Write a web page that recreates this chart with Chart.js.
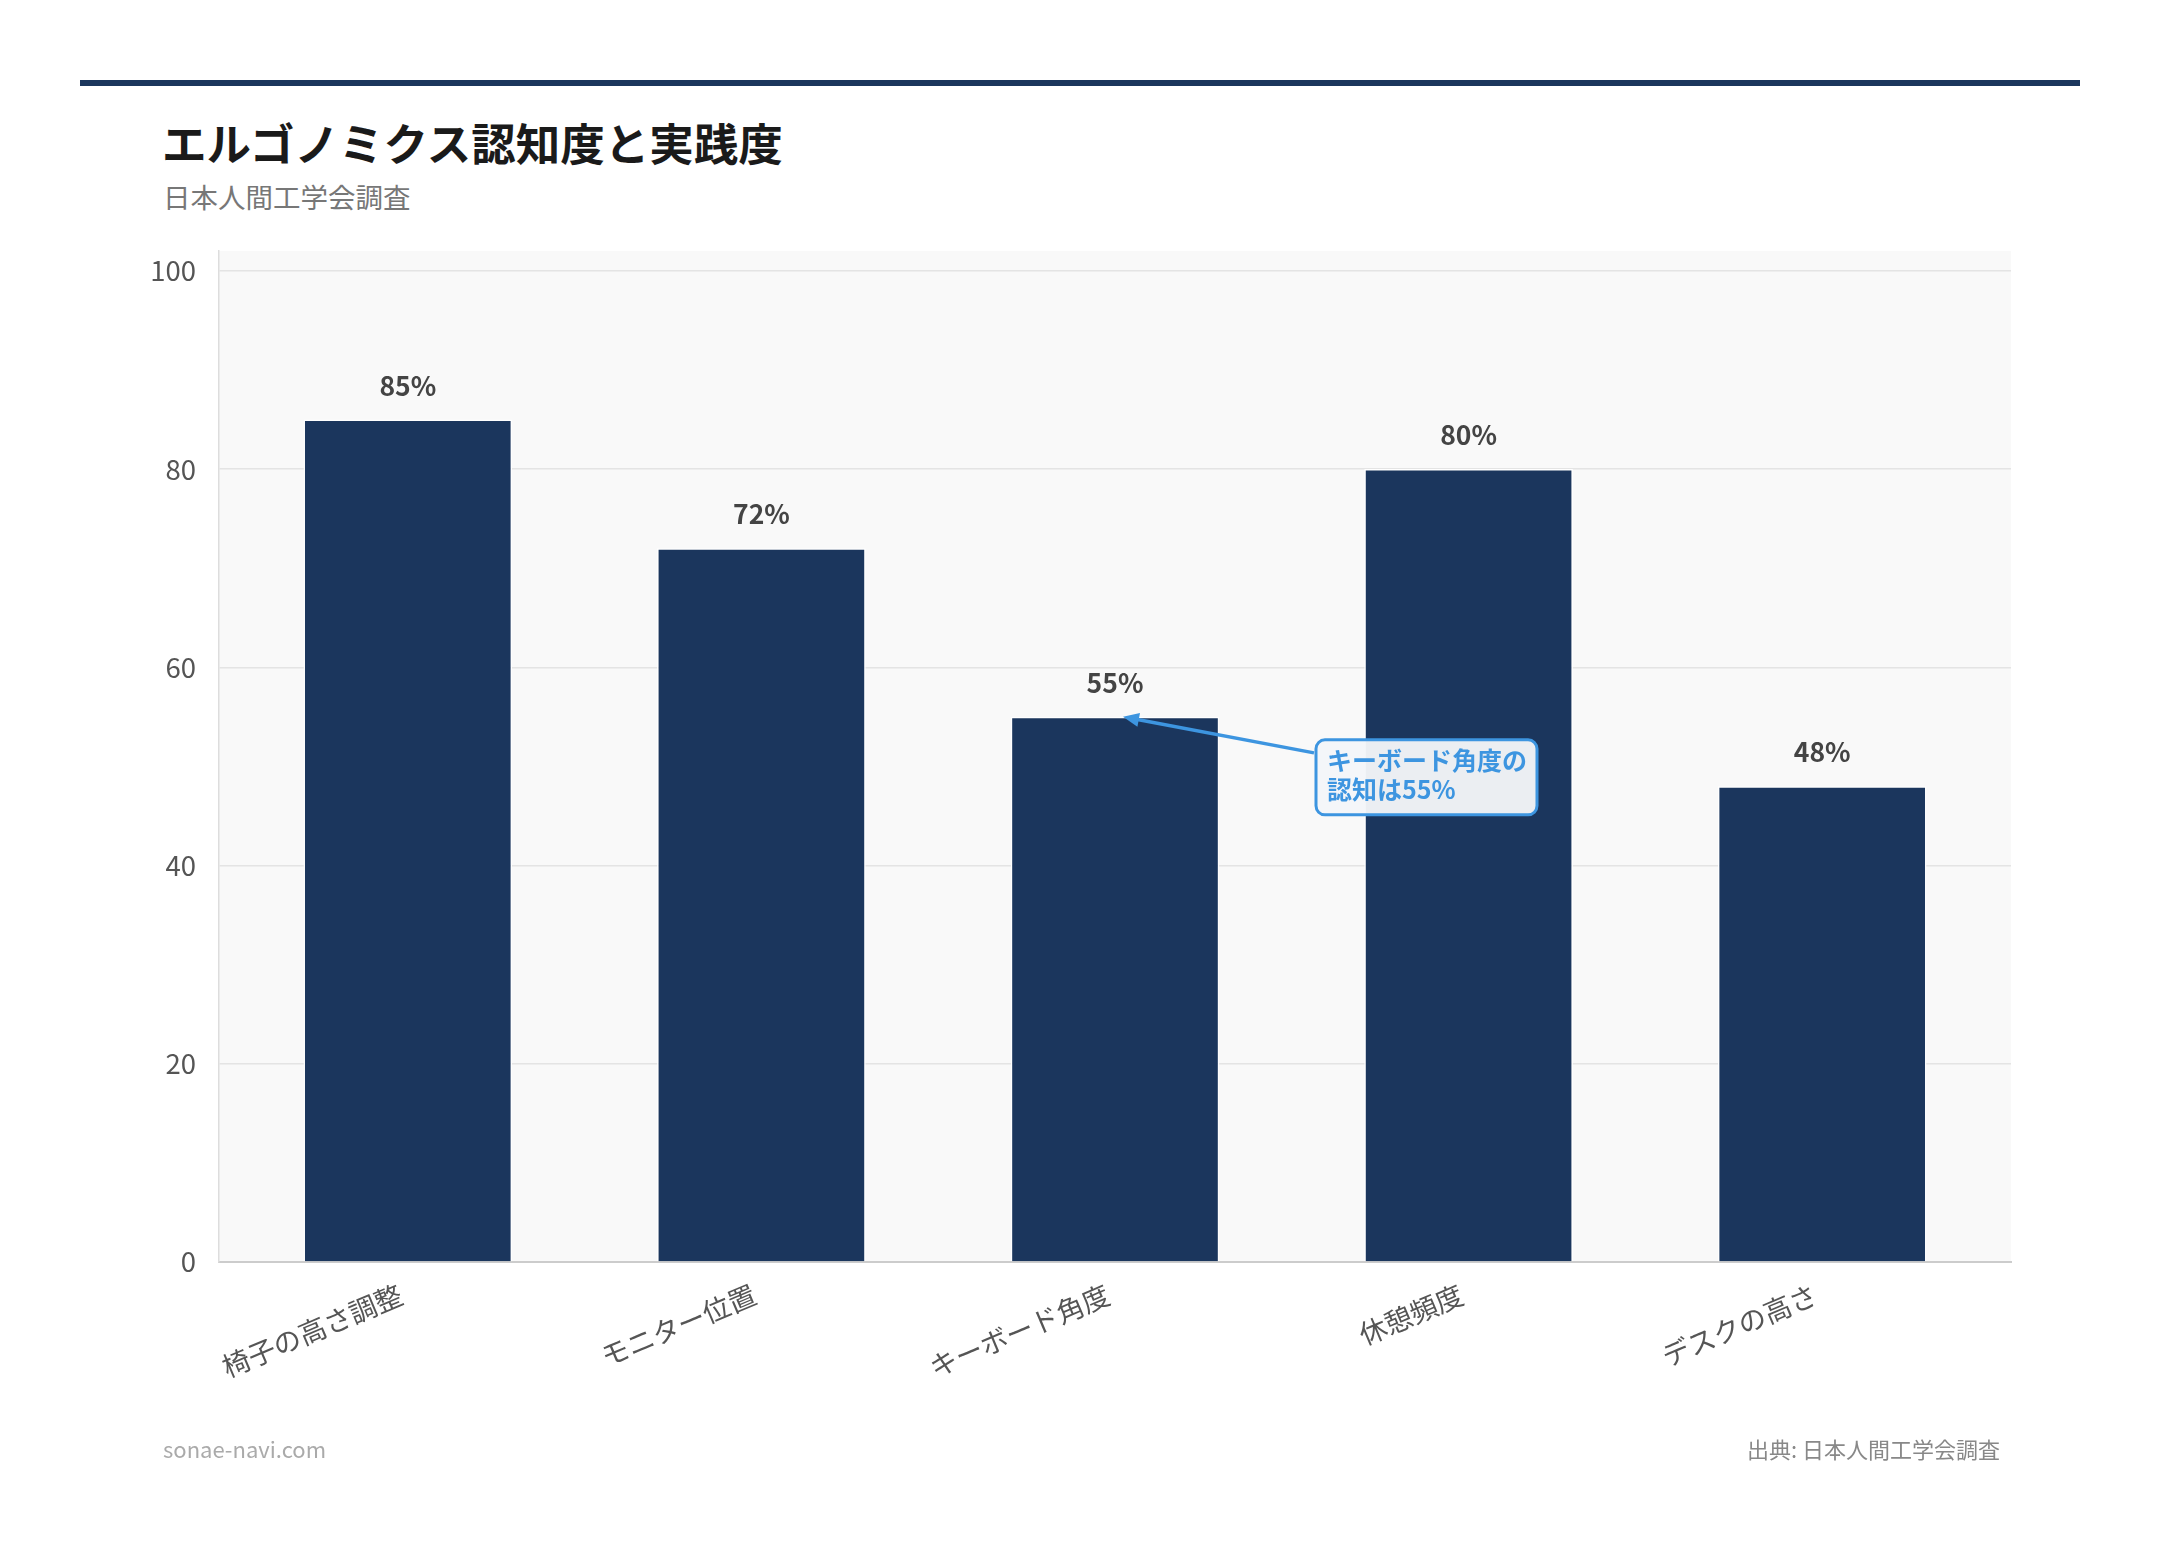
<!DOCTYPE html>
<html lang="ja">
<head>
<meta charset="utf-8">
<script src="https://cdn.jsdelivr.net/npm/chart.js@4.4.1/dist/chart.umd.min.js"></script>
<style>
  html, body { margin: 0; padding: 0; background: #fff; }
  body { width: 2160px; height: 1544px; position: relative; overflow: hidden;
         font-family: "Noto Sans CJK JP", "Noto Sans", sans-serif; }
  .rule { position: absolute; left: 80px; top: 80px; width: 2000px; height: 6px; background: #1b365d; }
  .title { position: absolute; left: 162px; top: 109px; font-size: 44.5px; font-weight: 700; color: #1a1a1a; }
  .subtitle { position: absolute; left: 163px; top: 176px; font-size: 27.5px; color: #777; }
  .foot-l { position: absolute; left: 163px; top: 1432px; font-size: 22px; color: #aaa; }
  .foot-r { position: absolute; right: 160px; top: 1432px; font-size: 22px; color: #888; }
  #wrap { position: absolute; left: 0; top: 0; width: 2160px; height: 1544px; }
</style>
</head>
<body>
<div class="rule"></div>
<div class="title">エルゴノミクス認知度と実践度</div>
<div class="subtitle">日本人間工学会調査</div>
<div id="wrap"><canvas id="grafico"></canvas></div>
<div class="foot-l">sonae-navi.com</div>
<div class="foot-r">出典: 日本人間工学会調査</div>

<script>
// データ
const categorias = ['椅子の高さ調整', 'モニター位置', 'キーボード角度', '休憩頻度', 'デスクの高さ'];
const valores = [85, 72, 55, 80, 48];
const yTicks = [0, 20, 40, 60, 80, 100];
const notaIndice = 2;
const notaTexto = ['キーボード角度の', '認知は55%'];

const fonte = '"Noto Sans CJK JP", "Noto Sans", sans-serif';

// fundo da área do gráfico
const fundoArea = {
  id: 'fundoArea',
  beforeDraw(chart) {
    const { ctx, chartArea: a } = chart;
    ctx.save();
    ctx.fillStyle = '#f9f9f9';
    ctx.fillRect(a.left, a.top, a.right - a.left, a.bottom - a.top);
    ctx.restore();
  }
};

// um pouco de margem dentro do eixo x
const recuoX = {
  id: 'recuoX',
  afterLayout(chart) {
    const s = chart.scales.x;
    s._startPixel += 12;
    s._endPixel -= 12;
    s._length -= 24;
  }
};

// rótulos em cima das barras + anotação
const rotulos = {
  id: 'rotulos',
  afterDatasetsDraw(chart) {
    const { ctx } = chart;
    const meta = chart.getDatasetMeta(0);
    ctx.save();
    ctx.font = '700 26.5px ' + fonte;
    ctx.fillStyle = '#444';
    ctx.textAlign = 'center';
    ctx.textBaseline = 'middle';
    meta.data.forEach((bar, i) => {
      ctx.fillText(valores[i] + '%', bar.x, bar.y - 34);
    });

    // anotação
    const alvo = meta.data[notaIndice];
    const tipX = alvo.x + 8, tipY = alvo.y;
    const bx = alvo.x + 201, by = alvo.y + 23, bw = 221, bh = 75;
    const tailX = bx - 2, tailY = by + 13;
    const azul = '#3d95e0';
    const ang = Math.atan2(tipY - tailY, tipX - tailX);
    ctx.strokeStyle = azul;
    ctx.fillStyle = azul;
    ctx.lineWidth = 3.5;
    ctx.beginPath();
    ctx.moveTo(tailX, tailY);
    ctx.lineTo(tipX - 12 * Math.cos(ang), tipY - 12 * Math.sin(ang));
    ctx.stroke();
    ctx.beginPath();
    ctx.moveTo(tipX, tipY);
    ctx.lineTo(tipX - 16 * Math.cos(ang) + 7 * Math.sin(ang), tipY - 16 * Math.sin(ang) - 7 * Math.cos(ang));
    ctx.lineTo(tipX - 16 * Math.cos(ang) - 7 * Math.sin(ang), tipY - 16 * Math.sin(ang) + 7 * Math.cos(ang));
    ctx.closePath();
    ctx.fill();

    ctx.beginPath();
    ctx.roundRect(bx, by, bw, bh, 9);
    ctx.fillStyle = 'rgba(244,246,249,0.96)';
    ctx.fill();
    ctx.lineWidth = 3;
    ctx.stroke();

    ctx.fillStyle = azul;
    ctx.font = '700 25px ' + fonte;
    ctx.textAlign = 'left';
    ctx.textBaseline = 'middle';
    ctx.fillText(notaTexto[0], bx + 11, by + 21);
    ctx.fillText(notaTexto[1], bx + 11, by + 50);
    ctx.restore();
  }
};

const ctx = document.getElementById('grafico').getContext('2d');
const grafico = new Chart(ctx, {
  type: 'bar',
  data: {
    labels: categorias,
    datasets: [{
      data: valores,
      backgroundColor: '#1b365d',
      borderColor: '#ffffff',
      borderWidth: 1.5,
      barPercentage: 0.59,
      categoryPercentage: 1
    }]
  },
  options: {
    responsive: true,
    maintainAspectRatio: false,
    animation: false,
    devicePixelRatio: 1,
    layout: { padding: { left: 139, right: 149, top: 251, bottom: 132 } },
    plugins: {
      legend: { display: false },
      title: { display: false },
      tooltip: { enabled: false }
    },
    scales: {
      x: {
        grid: { display: false, drawTicks: false },
        border: { display: true, color: '#cccccc', width: 2 },
        afterFit(s) { s.height = 150; },
        ticks: {
          color: '#555',
          font: { family: fonte, size: 27.5 },
          minRotation: 23,
          maxRotation: 23,
          padding: 16,
          labelOffset: -7
        }
      },
      y: {
        min: 0,
        max: 102,
        afterFit(s) { s.width = 80; },
        afterBuildTicks(s) { s.ticks = yTicks.map(v => ({ value: v })); },
        grid: { color: '#e4e4e4', lineWidth: 1.5, drawTicks: false },
        border: { display: true, color: '#dddddd', width: 1.5 },
        ticks: {
          color: '#555',
          font: { family: fonte, size: 27.5 },
          padding: 23,
          includeBounds: false
        }
      }
    }
  },
  plugins: [fundoArea, recuoX, rotulos]
});
</script>
</body>
</html>
